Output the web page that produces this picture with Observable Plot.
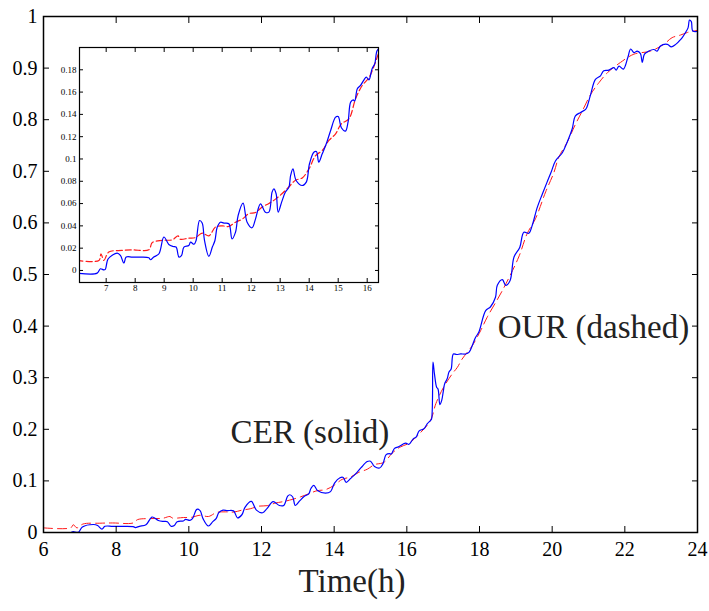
<!DOCTYPE html>
<html><head><meta charset="utf-8">
<script src="https://cdn.jsdelivr.net/npm/d3@7"></script>
<script src="https://cdn.jsdelivr.net/npm/@observablehq/plot@0.6"></script>
<style>
body{margin:0;background:#fff}
#wrap{position:relative;width:709px;height:611px}
#inset{position:absolute;left:55px;top:40px}
svg text{font-family:"Liberation Serif","DejaVu Serif",serif !important}
</style>
</head><body><div id="wrap"></div>
<script>
// CER (solid, blue)
const cerTime = [6.0,6.69,6.80,6.92,6.97,7.07,7.38,7.49,7.61,7.69,7.90,8.20,8.47,8.53,8.64,8.82,8.99,9.16,9.30,9.41,9.51,9.60,9.68,9.85,9.91,10.03,10.10,10.22,10.31,10.39,10.54,10.66,10.75,10.83,10.94,11.06,11.23,11.34,11.46,11.55,11.72,11.86,12.03,12.15,12.32,12.49,12.61,12.72,12.78,12.86,12.93,13.05,13.18,13.30,13.36,13.44,13.55,13.76,13.90,14.01,14.16,14.25,14.33,14.45,14.59,14.74,14.91,15.00,15.11,15.25,15.34,15.43,15.52,15.57,15.66,15.77,15.89,15.97,16.06,16.17,16.26,16.34,16.47,16.56,16.65,16.68,16.72,16.76,16.82,16.86,16.91,16.96,17.00,17.04,17.11,17.16,17.22,17.28,17.37,17.48,17.62,17.71,17.80,17.89,17.98,18.17,18.30,18.44,18.49,18.63,18.72,18.84,18.95,19.11,19.22,19.36,19.45,19.59,19.73,19.86,19.97,20.09,20.28,20.41,20.55,20.64,20.78,20.92,20.96,21.06,21.19,21.33,21.42,21.56,21.70,21.76,21.84,21.96,22.08,22.16,22.25,22.34,22.43,22.48,22.54,22.66,22.80,22.89,22.98,23.17,23.28,23.40,23.49,23.58,23.67,23.74,23.78,23.83,23.87,23.99];
const cerValue = [-0.0024,-0.0024,0.0015,0.0005,0.001,0.0105,0.0155,0.0135,0.0066,0.012,0.012,0.012,0.0114,0.0096,0.012,0.015,0.030,0.0233,0.0215,0.021,0.012,0.0135,0.021,0.0224,0.0254,0.0235,0.0269,0.0448,0.0425,0.0269,0.0126,0.021,0.0269,0.0389,0.0433,0.0425,0.0419,0.0284,0.0344,0.0493,0.0604,0.0433,0.0383,0.0463,0.0598,0.0523,0.0523,0.0703,0.0732,0.0688,0.0523,0.0613,0.0703,0.0747,0.0852,0.0912,0.0807,0.0762,0.0792,0.0957,0.1061,0.1067,0.0972,0.1046,0.1136,0.1256,0.1375,0.1381,0.128,0.125,0.133,0.151,0.153,0.152,0.163,0.166,0.171,0.1734,0.171,0.181,0.1853,0.197,0.201,0.2106,0.217,0.22,0.33,0.3075,0.2816,0.2777,0.248,0.256,0.272,0.288,0.298,0.311,0.317,0.346,0.345,0.346,0.346,0.349,0.362,0.378,0.388,0.430,0.437,0.456,0.479,0.490,0.479,0.488,0.534,0.553,0.582,0.580,0.595,0.630,0.656,0.679,0.698,0.720,0.736,0.756,0.782,0.8075,0.814,0.820,0.825,0.849,0.878,0.885,0.895,0.896,0.901,0.896,0.904,0.898,0.920,0.937,0.930,0.933,0.928,0.911,0.927,0.933,0.936,0.933,0.943,0.946,0.941,0.946,0.952,0.959,0.969,0.978,0.993,0.990,0.972,0.971];
// OUR (dashed, red)
const ourTime = [6.0,6.75,6.82,6.92,7.09,7.55,7.90,8.47,8.59,8.93,9.28,9.48,9.55,9.85,10.08,10.31,10.54,10.77,11.00,11.23,11.46,11.69,11.92,12.15,12.38,12.61,12.84,13.07,13.30,13.53,13.76,13.99,14.22,14.45,14.68,14.91,15.11,15.37,15.60,15.83,16.06,16.34,16.65,16.80,17.00,17.25,17.39,17.52,17.66,17.80,18.03,18.21,18.63,19.08,19.31,19.54,19.82,20.05,20.18,20.41,20.64,20.83,21.06,21.29,21.52,21.88,22.25,22.71,23.07,23.30,23.53,23.72,23.99];
const ourValue = [0.009,0.009,0.015,0.009,0.0165,0.018,0.0185,0.0185,0.025,0.027,0.0275,0.031,0.028,0.029,0.0295,0.0335,0.031,0.039,0.040,0.0395,0.0433,0.046,0.051,0.052,0.057,0.060,0.064,0.069,0.075,0.081,0.083,0.091,0.103,0.1076,0.1166,0.1226,0.1315,0.136,0.154,0.166,0.173,0.191,0.217,0.25,0.28,0.3075,0.320,0.336,0.349,0.362,0.391,0.417,0.469,0.534,0.579,0.608,0.660,0.698,0.727,0.756,0.791,0.817,0.849,0.872,0.891,0.911,0.927,0.933,0.946,0.959,0.964,0.969,0.973];

const xTicks = [6,8,10,12,14,16,18,20,22,24];
const yTicks = [0,0.1,0.2,0.3,0.4,0.5,0.6,0.7,0.8,0.9,1];
const yTickLabels = ["0","0.1","0.2","0.3","0.4","0.5","0.6","0.7","0.8","0.9","1"];
const insetXTicks = [7,8,9,10,11,12,13,14,15,16];
const insetYTicks = [0,0.02,0.04,0.06,0.08,0.1,0.12,0.14,0.16,0.18];
const insetYTickLabels = ["0","0.02","0.04","0.06","0.08","0.1","0.12","0.14","0.16","0.18"];
const annotations = ["CER (solid)", "OUR (dashed)"];
const xLabel = "Time(h)";

const cer = cerTime.map((t, i) => ({t, v: cerValue[i]}));
const our = ourTime.map((t, i) => ({t, v: ourValue[i]}));
const blank = () => "";
const serif = "'Liberation Serif', 'DejaVu Serif', serif";

const main = Plot.plot({
  width: 709, height: 611,
  marginTop: 16, marginLeft: 43, marginRight: 12, marginBottom: 79,
  style: {fontFamily: serif, fontSize: "20px", color: "black", background: "white", overflow: "visible"},
  x: {domain: [6, 24]},
  y: {domain: [0, 1]},
  marks: [
    Plot.line(our, {x: "t", y: "v", stroke: "#ff1a1a", strokeWidth: 1, strokeDasharray: "9,5", curve: "catmull-rom", clip: true}),
    Plot.line(cer, {x: "t", y: "v", stroke: "#0000ff", strokeWidth: 1.2, curve: "catmull-rom", clip: true}),
    Plot.axisX(xTicks, {anchor: "bottom", tickSize: 0, tickPadding: 9, label: null, tickFormat: d => String(d), fontFamily: serif}),
    Plot.axisX(xTicks, {anchor: "bottom", tickSize: -6, tickFormat: blank, label: null}),
    Plot.axisX(xTicks, {anchor: "top", tickSize: -6, tickFormat: blank, label: null}),
    Plot.axisY(yTicks, {anchor: "left", tickSize: 0, tickPadding: 6, label: null, tickFormat: d => yTickLabels[yTicks.indexOf(d)], fontFamily: serif}),
    Plot.axisY(yTicks, {anchor: "left", tickSize: -6, tickFormat: blank, label: null}),
    Plot.axisY(yTicks, {anchor: "right", tickSize: -6, tickFormat: blank, label: null}),
    Plot.frame({stroke: "black", strokeWidth: 1.5}),
    Plot.text([{s: annotations[0], t: 11.15, v: 0.193}], {x: "t", y: "v", text: "s", textAnchor: "start", fontSize: 33, fontFamily: serif, fill: "#222"}),
    Plot.text([{s: annotations[1], t: 18.5, v: 0.398}], {x: "t", y: "v", text: "s", textAnchor: "start", fontSize: 33, fontFamily: serif, fill: "#222"}),
    Plot.text([{s: xLabel, t: 14.49}], {x: "t", text: "s", frameAnchor: "bottom", dy: 59.5, fontSize: 33, fontFamily: serif, fill: "#222"})
  ]
});

const inset = Plot.plot({
  width: 330, height: 260,
  marginLeft: 24, marginTop: 7, marginRight: 7, marginBottom: 18,
  style: {fontFamily: serif, fontSize: "9px", color: "black", background: "white"},
  x: {domain: [6.08, 16.39]},
  y: {domain: [-0.0108, 0.2]},
  marks: [
    Plot.line(our, {x: "t", y: "v", stroke: "#ff1a1a", strokeWidth: 1.2, strokeDasharray: "6,3", curve: "catmull-rom", clip: true}),
    Plot.line(cer, {x: "t", y: "v", stroke: "#0000ff", strokeWidth: 1.2, curve: "catmull-rom", clip: true}),
    Plot.axisX(insetXTicks, {anchor: "bottom", tickSize: 0, tickPadding: 2, label: null, tickFormat: d => String(d), fontFamily: serif}),
    Plot.axisX(insetXTicks, {anchor: "bottom", tickSize: -4, tickFormat: blank, label: null}),
    Plot.axisX(insetXTicks, {anchor: "top", tickSize: -4, tickFormat: blank, label: null}),
    Plot.axisY(insetYTicks, {anchor: "left", tickSize: 0, tickPadding: 3, label: null, tickFormat: d => insetYTickLabels[insetYTicks.indexOf(d)], fontFamily: serif}),
    Plot.axisY(insetYTicks, {anchor: "left", tickSize: -4, tickFormat: blank, label: null}),
    Plot.axisY(insetYTicks, {anchor: "right", tickSize: -4, tickFormat: blank, label: null}),
    Plot.frame({stroke: "black", strokeWidth: 1.2})
  ]
});
inset.id = "inset";

const wrap = document.getElementById("wrap");
wrap.appendChild(main);
wrap.appendChild(inset);
</script>
</body></html>
